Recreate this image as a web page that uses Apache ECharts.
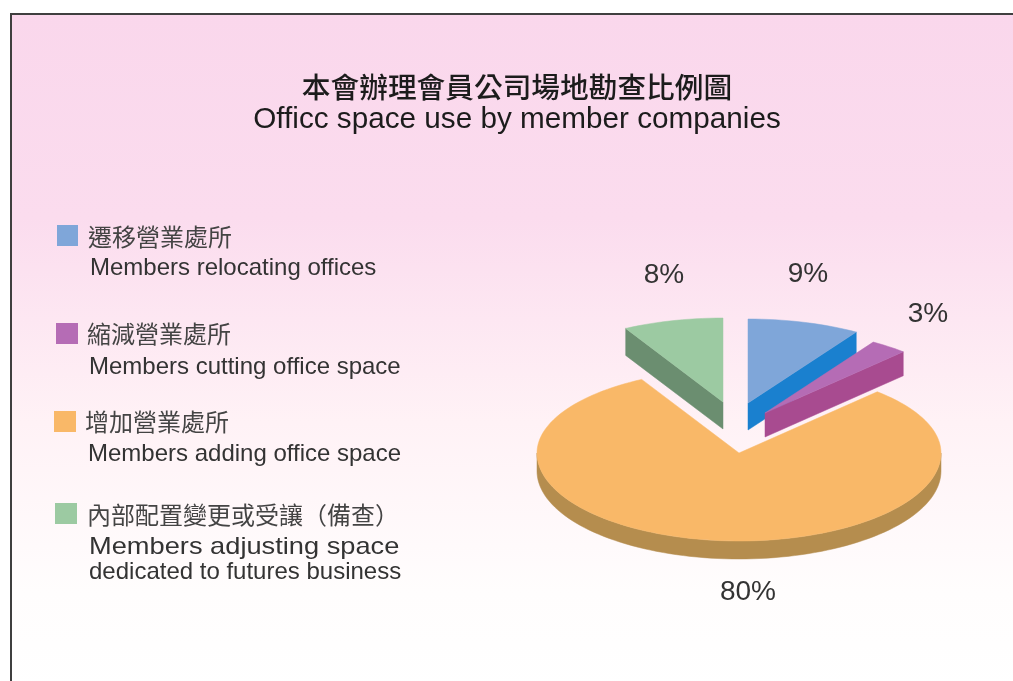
<!DOCTYPE html>
<html>
<head>
<meta charset="utf-8">
<style>
  html, body { margin: 0; padding: 0; background: #fff; }
  #chart { width: 1013px; height: 681px; }
</style>
<script src="https://cdn.jsdelivr.net/npm/echarts@6/dist/echarts.min.js"></script>
</head>
<body>
<div id="chart"></div>
<script>
const titleZh = '本會辦理會員公司場地勘查比例圖';
const titleEn = 'Officc space use by member companies';

const namesZh = ['遷移營業處所', '縮減營業處所', '增加營業處所', '內部配置變更或受讓（備查）'];
const namesEn = [
  ['Members relocating offices'],
  ['Members cutting office space'],
  ['Members adding office space'],
  ['Members adjusting space', 'dedicated to futures business']
];
const shares = [9, 3, 80, 8];

const CJK = '"Noto Sans CJK TC", sans-serif';
const LATIN = '"Liberation Sans", Arial, sans-serif';
const INK = '#333';

// top face colour, wall colour for each slice
const topColors = ['#7fa6d9', '#b56cb5', '#f9b868', '#9ccaa2'];
const wallColors = ['#1a80cf', '#a84b90', '#b58d4e', '#6b8e70'];

// pie geometry, the scan is a squashed pie so the back half is a bit flatter
const cx = 739, cy = 453, rx = 202, ryBack = 84, ryFront = 88;
const explode = [[9, -50], [26, -40], [0, 0], [-16, -51]];
const depths = [27, 24, 18, 27];
const drawRank = [1, 2, 0, 3];
const labelOffset = [[69, -179], [189, -139], [9, 139], [-75, -178]];

// same for the legend, the page was scanned slightly crooked
const legendPos = [
  { box: [57, 225, 21, 21], zh: [88, 237], en: [90, 268] },
  { box: [56, 323, 22, 21], zh: [87, 334], en: [89, 367] },
  { box: [54, 411, 22, 21], zh: [85, 422], en: [88, 454] },
  { box: [55, 503, 22, 21], zh: [87, 515], en: [89, 547] }
];
// the fourth english block is set wider in the original
const legendStretch = [[1], [1], [1], [1.135, 1]];

const total = shares.reduce((a, b) => a + b, 0);
const toAngle = v => echarts.number.linearMap(v, [0, total], [0, 360]);

function pt(ox, oy, deg, drop) {
  const t = deg * Math.PI / 180;
  const c = Math.cos(t);
  return [
    ox + rx * Math.sin(t),
    oy - c * (c > 0 ? ryBack : ryFront) + drop
  ];
}

function arc(ox, oy, from, to, drop) {
  const out = [];
  const n = Math.max(2, Math.ceil((to - from) / 2));
  for (let i = 0; i <= n; i++) {
    out.push(pt(ox, oy, from + (to - from) * i / n, drop));
  }
  return out;
}

function renderSlice(params, api) {
  const i = params.dataIndex;
  const before = shares.slice(0, i).reduce((a, b) => a + b, 0);
  const a0 = toAngle(before);
  const a1 = toAngle(before + api.value(0));
  const ox = cx + explode[i][0];
  const oy = cy + explode[i][1];
  const d = depths[i];
  const rank = drawRank[i] * 2;
  const apex = [ox, oy];
  const apexLow = [ox, oy + d];
  const kids = [];

  const wall = points => kids.push({
    type: 'polygon',
    z2: rank,
    shape: { points },
    style: { fill: wallColors[i], stroke: wallColors[i], lineWidth: 0.5 }
  });

  // walls that face the viewer only
  if (Math.sin(a1 * Math.PI / 180) > 0.001) {
    wall([apex, pt(ox, oy, a1, 0), pt(ox, oy, a1, d), apexLow]);
  }
  if (Math.sin(a0 * Math.PI / 180) < -0.001) {
    wall([apex, pt(ox, oy, a0, 0), pt(ox, oy, a0, d), apexLow]);
  }
  const fFrom = Math.max(a0, 90), fTo = Math.min(a1, 270);
  if (fTo > fFrom) {
    wall(arc(ox, oy, fFrom, fTo, 0).concat(arc(ox, oy, fFrom, fTo, d).reverse()));
  }

  kids.push({
    type: 'polygon',
    z2: rank + 1,
    shape: { points: [apex].concat(arc(ox, oy, a0, a1, 0)) },
    style: { fill: topColors[i], stroke: topColors[i], lineWidth: 0.5 }
  });

  kids.push({
    type: 'text',
    x: cx + labelOffset[i][0],
    y: cy + labelOffset[i][1],
    z2: 20,
    style: {
      text: api.value(0) + '%',
      font: '28px ' + LATIN,
      fill: INK,
      align: 'center',
      verticalAlign: 'middle'
    }
  });

  return { type: 'group', children: kids };
}

const legendItems = [];
namesZh.forEach((name, i) => {
  const p = legendPos[i];
  legendItems.push({
    type: 'rect',
    shape: { x: p.box[0], y: p.box[1], width: p.box[2], height: p.box[3] },
    style: { fill: topColors[i] }
  });
  legendItems.push({
    type: 'text', x: p.zh[0], y: p.zh[1],
    style: { text: name, font: '24px ' + CJK, fill: '#444', verticalAlign: 'middle' }
  });
  namesEn[i].forEach((line, k) => {
    legendItems.push({
      type: 'text', x: p.en[0], y: p.en[1] + k * 25,
      scaleX: legendStretch[i][k],
      style: { text: line, font: '24px ' + LATIN, fill: INK, verticalAlign: 'middle' }
    });
  });
});

const chart = echarts.init(document.getElementById('chart'), null, { renderer: 'canvas' });
chart.setOption({
  animation: false,
  backgroundColor: '#fff',
  graphic: [
    {
      type: 'rect',
      z: -10,
      shape: { x: 11, y: 14, width: 1010, height: 680 },
      style: {
        fill: new echarts.graphic.LinearGradient(0, 0, 0, 1, [
          { offset: 0, color: '#fad7ec' },
          { offset: 0.3, color: '#fbdcee' },
          { offset: 0.6, color: '#fff2f6' },
          { offset: 0.85, color: '#fffdfd' },
          { offset: 1, color: '#ffffff' }
        ]),
        stroke: '#3f3f3f',
        lineWidth: 2
      }
    },
    {
      type: 'text', x: 517, y: 87,
      style: { text: titleZh, font: '500 28.7px ' + CJK, fill: '#1c1c1c', align: 'center', verticalAlign: 'middle' }
    },
    {
      type: 'text', x: 517, y: 120,
      style: { text: titleEn, font: '29.7px ' + LATIN, fill: '#1c1c1c', align: 'center', verticalAlign: 'middle' }
    }
  ].concat(legendItems),
  series: [{
    type: 'custom',
    coordinateSystem: 'none',
    renderItem: renderSlice,
    data: shares.map((v, i) => ({ value: [v], name: namesEn[i].join(' ') }))
  }]
});
</script>
</body>
</html>
